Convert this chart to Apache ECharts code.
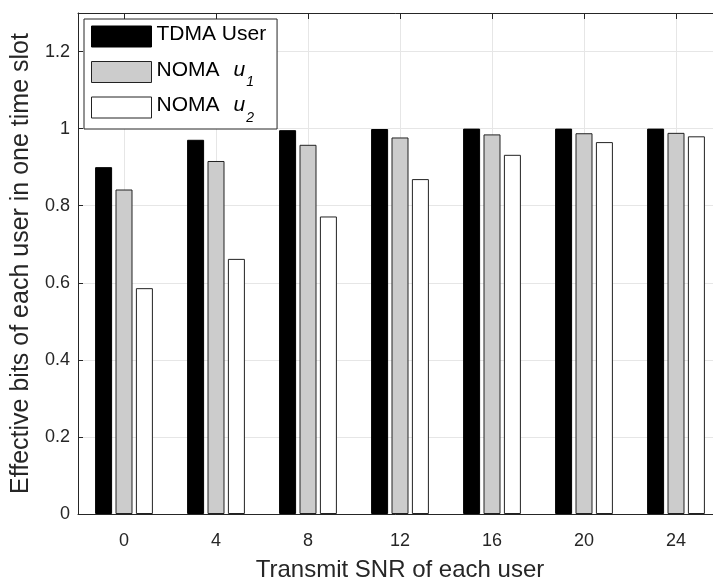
<!DOCTYPE html>
<html>
<head>
<meta charset="utf-8">
<script src="https://cdn.jsdelivr.net/npm/echarts@6/dist/echarts.min.js"></script>
<style>html,body{margin:0;padding:0;background:#fff}#c{width:713px;height:583px}</style>
</head>
<body>
<div id="c"></div>
<script>
var categories = ['0', '4', '8', '12', '16', '20', '24'];
var tdmaUser = [0.900, 0.971, 0.996, 0.999, 1.000, 1.000, 1.000];
var nomaU1 = [0.842, 0.916, 0.958, 0.977, 0.985, 0.988, 0.989];
var nomaU2 = [0.586, 0.662, 0.772, 0.869, 0.932, 0.965, 0.980];
var seriesNames = ['TDMA User', 'NOMA u1', 'NOMA u2'];
var yTickLabels = ['0', '0.2', '0.4', '0.6', '0.8', '1', '1.2'];

var FONT = "'Liberation Sans', Arial, Helvetica, sans-serif";
var AX = '#262626';
var fills = ['#000000', '#cccccc', '#ffffff'];
var borders = ['#000000', '#222222', '#222222'];

var chart = echarts.init(document.getElementById('c'), null, {renderer: 'canvas'});

function legendFmt(name) {
  if (name === seriesNames[0]) return '{n|TDMA User}{s| }';
  var sub = name.slice(-1);
  return '{n|NOMA}{i|u}{s|' + sub + '}';
}

var series = [tdmaUser, nomaU1, nomaU2].map(function (d, k) {
  return {
    name: seriesNames[k],
    type: 'bar',
    data: d,
    barWidth: 17,
    barGap: '20%',
    itemStyle: {color: fills[k], borderColor: borders[k], borderWidth: 1},
    emphasis: {disabled: true}
  };
});

chart.setOption({
  animation: false,
  backgroundColor: '#fff',
  textStyle: {fontFamily: FONT},
  grid: {left: 78, right: -9, top: 13, bottom: 69, containLabel: false, outerBoundsMode: 'none'},
  legend: {
    orient: 'vertical',
    left: 84, top: 19,
    padding: [0, 6, 4, 7],
    itemWidth: 60, itemHeight: 21, itemGap: 0.5,
    backgroundColor: '#fff',
    borderColor: AX, borderWidth: 1,
    selectedMode: false,
    icon: 'rect',
    data: seriesNames.map(function (n, k) {
      return {name: n, itemStyle: {color: fills[k], borderColor: borders[k], borderWidth: 1}};
    }),
    formatter: legendFmt,
    textStyle: {
      color: '#000',
      fontFamily: FONT,
      rich: {
        n: {fontSize: 21, fontFamily: FONT, color: '#000', padding: [5, 0, 0, 0], verticalAlign: 'top'},
        i: {fontSize: 21, fontFamily: FONT, fontStyle: 'italic', color: '#000', padding: [5, 0, 0, 14], verticalAlign: 'top'},
        s: {fontSize: 14, fontFamily: FONT, fontStyle: 'italic', color: '#000', padding: [21, 0, 0, 1], lineHeight: 35, verticalAlign: 'top'}
      }
    }
  },
  xAxis: [{
    type: 'category',
    data: categories,
    position: 'bottom',
    name: 'Transmit SNR of each user',
    nameLocation: 'middle',
    nameGap: 44,
    nameTextStyle: {fontSize: 24, color: AX, fontFamily: FONT},
    axisLine: {show: true, lineStyle: {color: AX, width: 1}},
    axisTick: {show: true, inside: true, alignWithLabel: true, length: 5, interval: 0, lineStyle: {color: AX}},
    axisLabel: {fontSize: 18, color: AX, margin: 18, interval: 0, fontFamily: FONT},
    splitLine: {show: true, alignWithLabel: true, interval: 0, lineStyle: {color: '#e6e6e6', width: 1}}
  }, {
    type: 'category',
    data: categories,
    position: 'top',
    axisLine: {show: true, lineStyle: {color: AX, width: 1}},
    axisTick: {show: true, inside: true, alignWithLabel: true, length: 6, interval: 0, lineStyle: {color: AX}},
    axisLabel: {show: false},
    splitLine: {show: false}
  }],
  yAxis: {
    type: 'value',
    min: 0, max: 1.3, interval: 0.2,
    name: 'Effective bits of each user in one time slot',
    nameLocation: 'middle',
    nameGap: 44,
    nameRotate: 90,
    nameTextStyle: {fontSize: 25, color: AX, fontFamily: FONT},
    axisLine: {show: true, lineStyle: {color: AX, width: 1}},
    axisTick: {show: true, inside: true, length: 5, lineStyle: {color: AX}},
    axisLabel: {
      fontSize: 18, color: AX, margin: 8, fontFamily: FONT,
      formatter: function (v) {
        var idx = Math.round(v / 0.2);
        if (Math.abs(v - idx * 0.2) > 1e-6 || idx >= yTickLabels.length) return '';
        return yTickLabels[idx];
      }
    },
    splitLine: {show: true, lineStyle: {color: '#e6e6e6', width: 1}}
  },
  series: series
});
</script>
</body>
</html>
